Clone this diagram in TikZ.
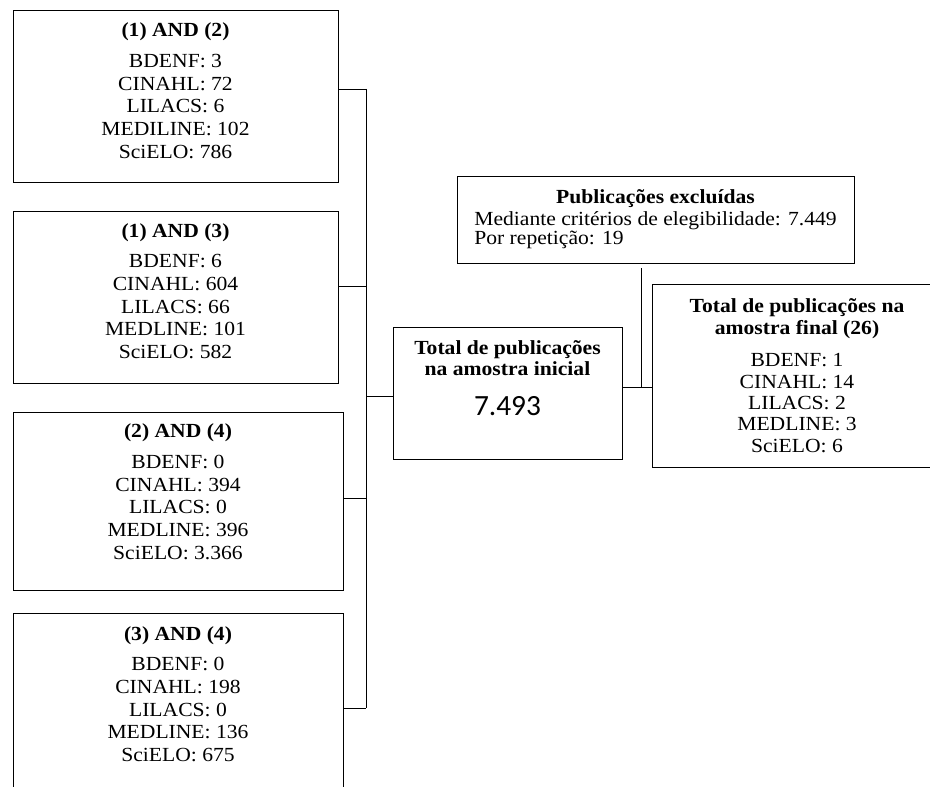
\documentclass[tikz,border=0pt]{standalone}
\usepackage{fontspec}
\setmainfont{Liberation Serif}[FakeStretch=1.08]
\newfontfamily\numfont{Carlito}

\begin{document}
\begin{tikzpicture}[x=0.75pt,y=-0.75pt,
  box/.style={draw, line width=0.7pt, align=center, inner sep=0pt,
    font=\fontsize{15}{17}\selectfont},
  link/.style={line width=0.6pt}]
\useasboundingbox (0,0) rectangle (930,787);
\fill[white] (0,0) rectangle (930,787);
\clip (0,0) rectangle (930,787);
% Search combinations
\node[box, minimum width=243.75pt, minimum height=129pt, text depth=8pt] (b12) at (175.5,96)
  {\textbf{(1) AND (2)}\\[6pt] BDENF: 3\\ CINAHL: 72\\ LILACS: 6\\ MEDILINE: 102\\ SciELO: 786};
\node[box, minimum width=243.75pt, minimum height=129pt, text depth=9pt] (b13) at (175.5,297)
  {\textbf{(1) AND (3)}\\[6pt] BDENF: 6\\ CINAHL: 604\\ LILACS: 66\\ MEDLINE: 101\\ SciELO: 582};
\node[box, minimum width=247.5pt, minimum height=133.5pt, text depth=14pt] (b24) at (178,501)
  {\textbf{(2) AND (4)}\\[6pt] BDENF: 0\\ CINAHL: 394\\ LILACS: 0\\ MEDLINE: 396\\ SciELO: 3.366};
\node[box, minimum width=247.5pt, minimum height=133.5pt, text depth=12pt] (b34) at (178,702)
  {\textbf{(3) AND (4)}\\[6pt] BDENF: 0\\ CINAHL: 198\\ LILACS: 0\\ MEDLINE: 136\\ SciELO: 675};
% Initial sample
\node[box, minimum width=171.75pt, minimum height=99pt, text depth=22pt,
  font=\fontsize{15}{15.75}\selectfont] (inicial) at (507.5,393)
  {\textbf{Total de publicações}\\ \textbf{na amostra inicial}\\[14pt] {\numfont\fontsize{22}{22}\selectfont 7.493}};
% Excluded
\node[box, minimum width=297.75pt, minimum height=65.25pt,
  font=\fontsize{15}{13.5}\selectfont] (excl) at (655.5,219.5)
  {\begin{tabular}{@{}l@{}}\multicolumn{1}{@{}c@{}}{\textbf{Publicações excluídas}}\\[2pt]
   Mediante critérios de elegibilidade: 7.449\\ Por repetição: 19\end{tabular}};
% Final sample
\node[box, minimum width=217.5pt, minimum height=137.25pt,
  font=\fontsize{15}{16}\selectfont] (final) at (797,375.5)
  {\textbf{Total de publicações na}\\[1pt] \textbf{amostra final (26)}\\[8pt] BDENF: 1\\ CINAHL: 14\\ LILACS: 2\\ MEDLINE: 3\\ SciELO: 6};
% Connectors
\coordinate (spine) at (366,0);
\coordinate (jn) at (641,387);
\foreach \b/\s in {b12/5.25pt,b13/8.25pt,b24/2.25pt,b34/-4.5pt}
  \draw[link] ([yshift=\s]\b.east) -- ([yshift=\s]\b.east -| spine);
\draw[link] ([yshift=5.25pt]b12.east -| spine) -- ([yshift=-4.5pt]b34.east -| spine);
\draw[link] ([yshift=-2.25pt]inicial.west -| spine) -- ([yshift=-2.25pt]inicial.west);
\draw[link] (inicial.east |- jn) -- (final.west |- jn);
\draw[link] ([yshift=-3.75pt]excl.south -| jn) -- (jn);
\end{tikzpicture}
\end{document}
